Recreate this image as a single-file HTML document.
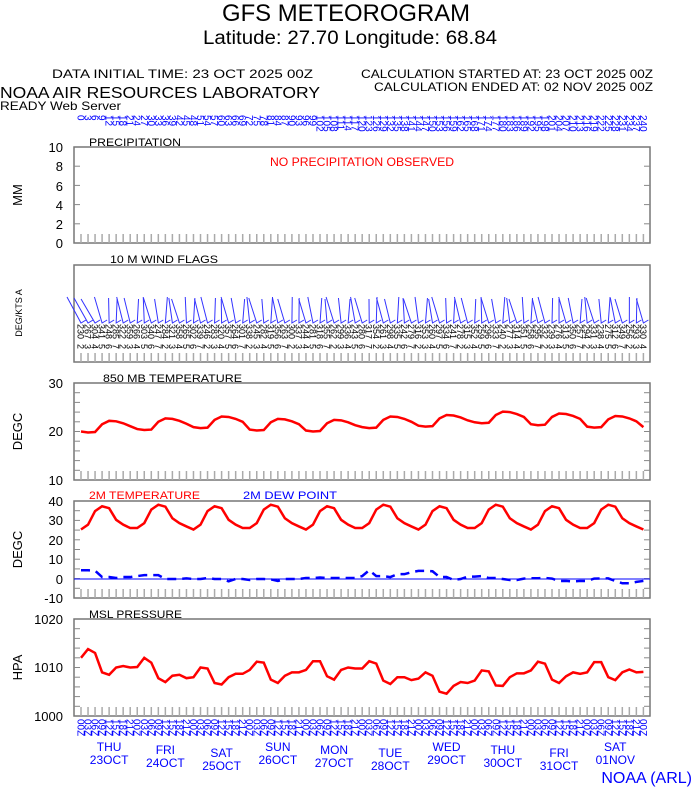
<!DOCTYPE html>
<html><head><meta charset="utf-8"><style>
body{margin:0;background:#fff;width:694px;height:788px;overflow:hidden;font-family:"Liberation Sans",sans-serif}
svg text{font-family:"Liberation Sans",sans-serif}
</style></head><body>
<svg id="s" width="694" height="788" xmlns="http://www.w3.org/2000/svg">
<text x="222" y="21" font-size="24" textLength="248" lengthAdjust="spacingAndGlyphs">GFS METEOROGRAM</text>
<text x="203" y="44" font-size="19" textLength="294" lengthAdjust="spacingAndGlyphs">Latitude: 27.70 Longitude:  68.84</text>
<text x="52" y="78" font-size="12" textLength="261" lengthAdjust="spacingAndGlyphs">DATA INITIAL TIME: 23 OCT 2025 00Z</text>
<text x="361" y="78" font-size="12" textLength="292" lengthAdjust="spacingAndGlyphs">CALCULATION STARTED AT: 23 OCT 2025 00Z</text>
<text x="374" y="91" font-size="12" textLength="279" lengthAdjust="spacingAndGlyphs">CALCULATION ENDED AT: 02 NOV 2025 00Z</text>
<text x="0" y="98" font-size="16" textLength="320" lengthAdjust="spacingAndGlyphs">NOAA AIR RESOURCES LABORATORY</text>
<text x="0" y="110" font-size="12" textLength="121" lengthAdjust="spacingAndGlyphs">READY Web Server</text>
<text x="89" y="146" font-size="11" textLength="92" lengthAdjust="spacingAndGlyphs">PRECIPITATION</text>
<text x="270" y="166" font-size="12" fill="#f00" textLength="184" lengthAdjust="spacingAndGlyphs">NO PRECIPITATION OBSERVED</text>
<text x="110" y="263" font-size="11" textLength="108" lengthAdjust="spacingAndGlyphs">10 M  WIND FLAGS</text>
<text x="103" y="382" font-size="11" textLength="139" lengthAdjust="spacingAndGlyphs">850 MB  TEMPERATURE</text>
<text x="89" y="499" font-size="11" fill="#f00" textLength="111" lengthAdjust="spacingAndGlyphs">2M TEMPERATURE</text>
<text x="243" y="499" font-size="11" fill="#00f" textLength="94" lengthAdjust="spacingAndGlyphs">2M   DEW POINT</text>
<text x="89" y="618" font-size="11" textLength="93" lengthAdjust="spacingAndGlyphs">MSL PRESSURE</text>
<text x="692" y="783" font-size="16" fill="#00f" text-anchor="end">NOAA (ARL)</text>
<g id="g"></g>
</svg>
<script>
const g=document.getElementById('g');let h='';
const L=74,R=650,X0=81,DX=7.03,N=81;
const px=i=>X0+i*DX;
function panel(t,b,labels,ylab,minor){
 h+=`<rect x="${L}" y="${t}" width="${R-L}" height="${b-t}" fill="none" stroke="#777" stroke-width="1.5"/>`;
 for(let i=0;i<N;i++)h+=`<line x1="${px(i)}" y1="${b-9}" x2="${px(i)}" y2="${b}" stroke="#aaa" stroke-width="1.5"/>`;
 if(minor){for(let k=1;k<minor;k++){let y=t+(b-t)*k/minor;h+=`<line x1="${L}" y1="${y}" x2="${L+6}" y2="${y}" stroke="#888"/><line x1="${R-6}" y1="${y}" x2="${R}" y2="${y}" stroke="#888"/>`;}}
 labels.forEach(([v,y])=>h+=`<text x="63" y="${y+5}" font-size="13" text-anchor="end">${v}</text>`);
 if(ylab)h+=`<text transform="translate(22,${(t+b)/2}) rotate(-90)" font-size="13" text-anchor="middle">${ylab}</text>`;
}
panel(147,243,[[10,147],[8,166],[6,186],[4,205],[2,224],[0,243]],'MM',5);
panel(265,362,[],'',0);
h+=`<text transform="translate(22,313) rotate(-90)" font-size="9" text-anchor="middle">DEG/KTS  A</text>`;
panel(383,480,[[30,383],[20,431],[10,480]],'DEGC',10);
panel(501,598,[[40,501],[30,520],[20,540],[10,559],[0,579],[-10,598]],'DEGC',10);
panel(619,716,[[1020,619],[1010,667],[1000,716]],'HPA',10);
for(let i=0;i<N;i++){let s=String(i*3);h+=`<text transform="translate(${px(i)-3.5},115) rotate(90)" font-size="10" fill="#00f">${s}</text>`;}
for(let i=0;i<N;i++){let x=px(i),dx=(i<3)?-14:(Math.sin(i*1.7)*5-3),ytop=297+(i%3);
 h+=`<polyline points="${x+dx},${ytop} ${x},323 ${x+5},320" fill="none" stroke="#33f" stroke-width="1"/>`;
 h+=`<text transform="translate(${x-3.5},324) rotate(90)" font-size="9" fill="#000">${(230+((i*37)%130))}</text>`;
 h+=`<text transform="translate(${x-3.5},344) rotate(90)" font-size="9" fill="#000">${2+(i*7)%6}</text>`;}
let b8=[21.3,21.8,22.2,21.7,21.5,22.2,22.5,23.2,22.8,22.3,22.2,22.0,21.7];
let sh=[-1.3,-1.5,-1.4,0.2,0.9,0.8,0.4,-0.2];
let p8=[];for(let i=0;i<N;i++){let d=Math.floor(i/8);let v=b8[d]+sh[i%8];p8.push(`${px(i)},${480-(v-10)*4.85}`);}
h+=`<polyline points="${p8.join(' ')}" fill="none" stroke="#f00" stroke-width="2.5"/>`;
let s2=[25.5,28,35,37.5,36.5,30.5,28,26.3];let p2=[];
for(let i=0;i<N;i++){let v=s2[i%8]+(i%16<8?0:0.8);p2.push(`${px(i)},${579-v*1.94}`);}
h+=`<polyline points="${p2.join(' ')}" fill="none" stroke="#f00" stroke-width="2.5"/>`;
h+=`<line x1="${L}" y1="579" x2="${R}" y2="579" stroke="#00f"/>`;
let dp=[4.5,4.3,1,0.5,1,1.5,2,2,0,0,0.3,0,0.5,0,-1.2,0,-0.5,0,-0.2,-1,0,0,0.5,0.8,0.5,0.5,0.5,1.5,4.5,1.5,1,2.5,3.5,4.2,4,1,-0.5,0,1.2,1.5,0.5,0,-0.5,0.2,0.4,0.5,0.2,-1,-1.3,-1,0.2,0.3,-1,-2.2,-1.5,-1];
let pd=[];for(let i=0;i<N;i++){let v=dp[Math.floor(i*dp.length/N)];pd.push(`${px(i)},${579-v*1.94}`);}
h+=`<polyline points="${pd.join(' ')}" fill="none" stroke="#00f" stroke-width="2.5" stroke-dasharray="9,6"/>`;
let m=[1012,1013.8,1013,1009,1008.5,1010,1010.3,1010,1010.1,1012,1011,1007.8,1007,1008.3,1008.5,1007.8,1008,1010,1009.8,1006.8,1006.5,1008,1008.7,1008.7,1009.5,1011.2,1011,1007.5,1006.8,1008.3,1009,1009,1009.5,1011.3,1011.3,1008.2,1007.5,1009.5,1010,1009.8,1009.8,1011.3,1010.8,1007.3,1006.6,1008,1008,1007.4,1007.7,1009,1008.3,1005,1004.6,1006.2,1007,1006.8,1007.3,1009.4,1009.2,1006.3,1006.2,1008,1008.8,1008.8,1009.4,1011.2,1010.8,1007.5,1006.8,1008.2,1009,1008.7,1009,1011.1,1011.1,1008,1007.4,1009,1009.6,1009,1009.1];
let pm=[];for(let i=0;i<N;i++){let v=m[Math.min(i,m.length-1)];pm.push(`${px(i)},${716-(v-1000)*4.85}`);}
h+=`<polyline points="${pm.join(' ')}" fill="none" stroke="#f00" stroke-width="2.5"/>`;
const hr=['00Z','03Z','06Z','09Z','12Z','15Z','18Z','21Z'];
for(let i=0;i<N;i++)h+=`<text transform="translate(${px(i)-3.5},719) rotate(90)" font-size="10" fill="#00f">${hr[i%8]}</text>`;
const days=[['THU','23OCT'],['FRI','24OCT'],['SAT','25OCT'],['SUN','26OCT'],['MON','27OCT'],['TUE','28OCT'],['WED','29OCT'],['THU','30OCT'],['FRI','31OCT'],['SAT','01NOV']];
days.forEach((d,k)=>{let x=px(4+8*k),o=(k%3)*3;h+=`<text x="${x}" y="${753+o-2}" font-size="12" fill="#00f" text-anchor="middle">${d[0]}</text><text x="${x}" y="${766+o-2}" font-size="12" fill="#00f" text-anchor="middle">${d[1]}</text>`;});
g.innerHTML=h;
</script>
</body></html>
